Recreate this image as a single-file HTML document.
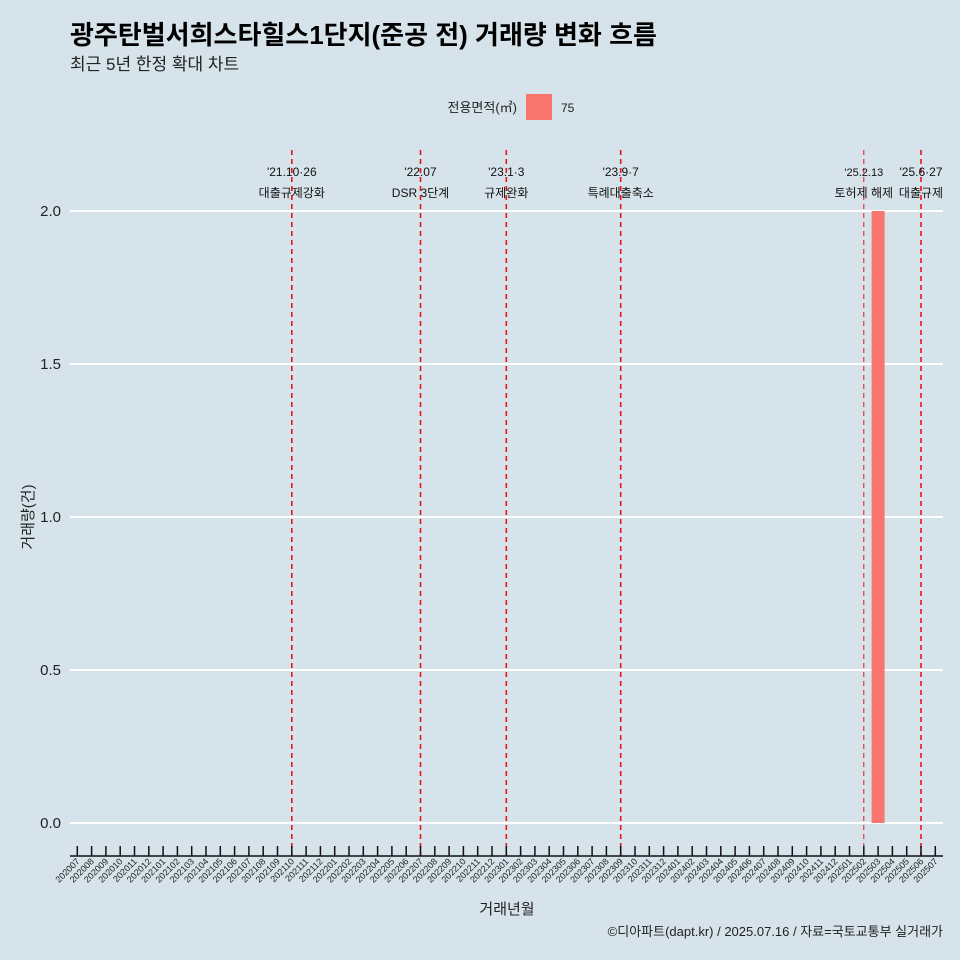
<!DOCTYPE html>
<html><head><meta charset="utf-8"><style>
body{margin:0;background:#d6e3ea;}
svg{display:block;font-family:"Liberation Sans","Noto Sans CJK KR",sans-serif;}
</style></head><body>
<svg width="960" height="960" viewBox="0 0 960 960">
<rect width="960" height="960" fill="#d6e3ea"/>
<text x="70" y="44" font-size="26" font-weight="bold" fill="#000">광주탄벌서희스타힐스1단지(준공 전) 거래량 변화 흐름</text>
<text x="70" y="70" font-size="17" fill="#222">최근 5년 한정 확대 차트</text>
<g>
<text x="517" y="112" font-size="13" text-anchor="end" fill="#222">전용면적(㎡)</text>
<rect x="526" y="94" width="26" height="26" fill="#f8766d"/>
<text x="561" y="112" font-size="12" fill="#222">75</text>
</g>
<g id="grid"></g><g id="bars"></g><g id="events"></g><g id="xaxis"></g><g id="yaxis"></g>
<text x="507" y="914" font-size="15" text-anchor="middle" fill="#222">거래년월</text>
<text transform="translate(33,517) rotate(-90)" font-size="15" text-anchor="middle" fill="#222">거래량(건)</text>
<text x="943" y="936" font-size="13" text-anchor="end" fill="#222">©디아파트(dapt.kr) / 2025.07.16 / 자료=국토교통부 실거래가</text>
</svg>
<script>
const months = [];
for (let y = 2020; y <= 2025; y++) for (let m = 1; m <= 12; m++) { const k = y * 100 + m; if (k >= 202007 && k <= 202507) months.push(String(k)); }
const barMonths = ["202503"];
const barValues = [2];
const yTicks = [0, 0.5, 1.0, 1.5, 2.0];
const yTickLabels = ["0.0", "0.5", "1.0", "1.5", "2.0"];
const eventMonths = ["202110", "202207", "202301", "202309", "202502", "202506"];
const eventDates = ["'21.10·26", "'22.07", "'23.1·3", "'23.9·7", "'25.2.13", "'25.6·27"];
const eventLabels = ["대출규제강화", "DSR 3단계", "규제완화", "특례대출축소", "토허제 해제", "대출규제"];

const NS = "http://www.w3.org/2000/svg";
const x = m => 77.3 + months.indexOf(m) * 14.3;
const y = v => 823 - v * 306;
function mk(tag, attrs, parent) { const e = document.createElementNS(NS, tag); for (const k in attrs) e.setAttribute(k, attrs[k]); document.getElementById(parent).appendChild(e); return e; }

yTicks.forEach((v, i) => {
  const l = mk("line", {x1: 70, x2: 943, y1: y(v), y2: y(v), stroke: "#fff", "stroke-width": 2}, "grid");
  
  
  const t = mk("text", {x: 61, y: y(v) + 5, "font-size": 15, "text-anchor": "end", fill: "#222"}, "yaxis");
  t.textContent = yTickLabels[i];
  
  
});

barMonths.forEach((m, i) => {
  const r = mk("rect", {x: x(m) - 6.5, y: y(barValues[i]), width: 13, height: y(0) - y(barValues[i]), fill: "#f8766d"}, "bars");
  
  
});

eventMonths.forEach((m, i) => {
  const l = mk("line", {x1: x(m), x2: x(m), y1: 150, y2: 856, stroke: "#e8141c", "stroke-width": m === "202502" ? 1 : 1.6, "stroke-dasharray": "5,4"}, "events");
  
  
  const t1 = mk("text", {x: x(m), y: 176, "font-size": m === "202502" ? 11 : 12, "text-anchor": "middle", fill: "#111"}, "events");
  t1.textContent = eventDates[i];
  
  
  const t2 = mk("text", {x: x(m), y: 197, "font-size": 12, "text-anchor": "middle", fill: "#111"}, "events");
  t2.textContent = eventLabels[i];
  
  
});

const ax = mk("line", {x1: 70, x2: 943, y1: 856, y2: 856, stroke: "#111", "stroke-width": 1.5}, "xaxis");


months.forEach(m => {
  const tk = mk("line", {x1: x(m), x2: x(m), y1: 846, y2: 856, stroke: "#111", "stroke-width": 1.5}, "xaxis");
  
  
  const t = mk("text", {x: x(m) + 3, y: 862, "font-size": 9, "text-anchor": "end", fill: "#222", transform: `rotate(-45 ${x(m) + 3} 862)`}, "xaxis");
  t.textContent = m;
  
  
});
</script>
</body></html>
